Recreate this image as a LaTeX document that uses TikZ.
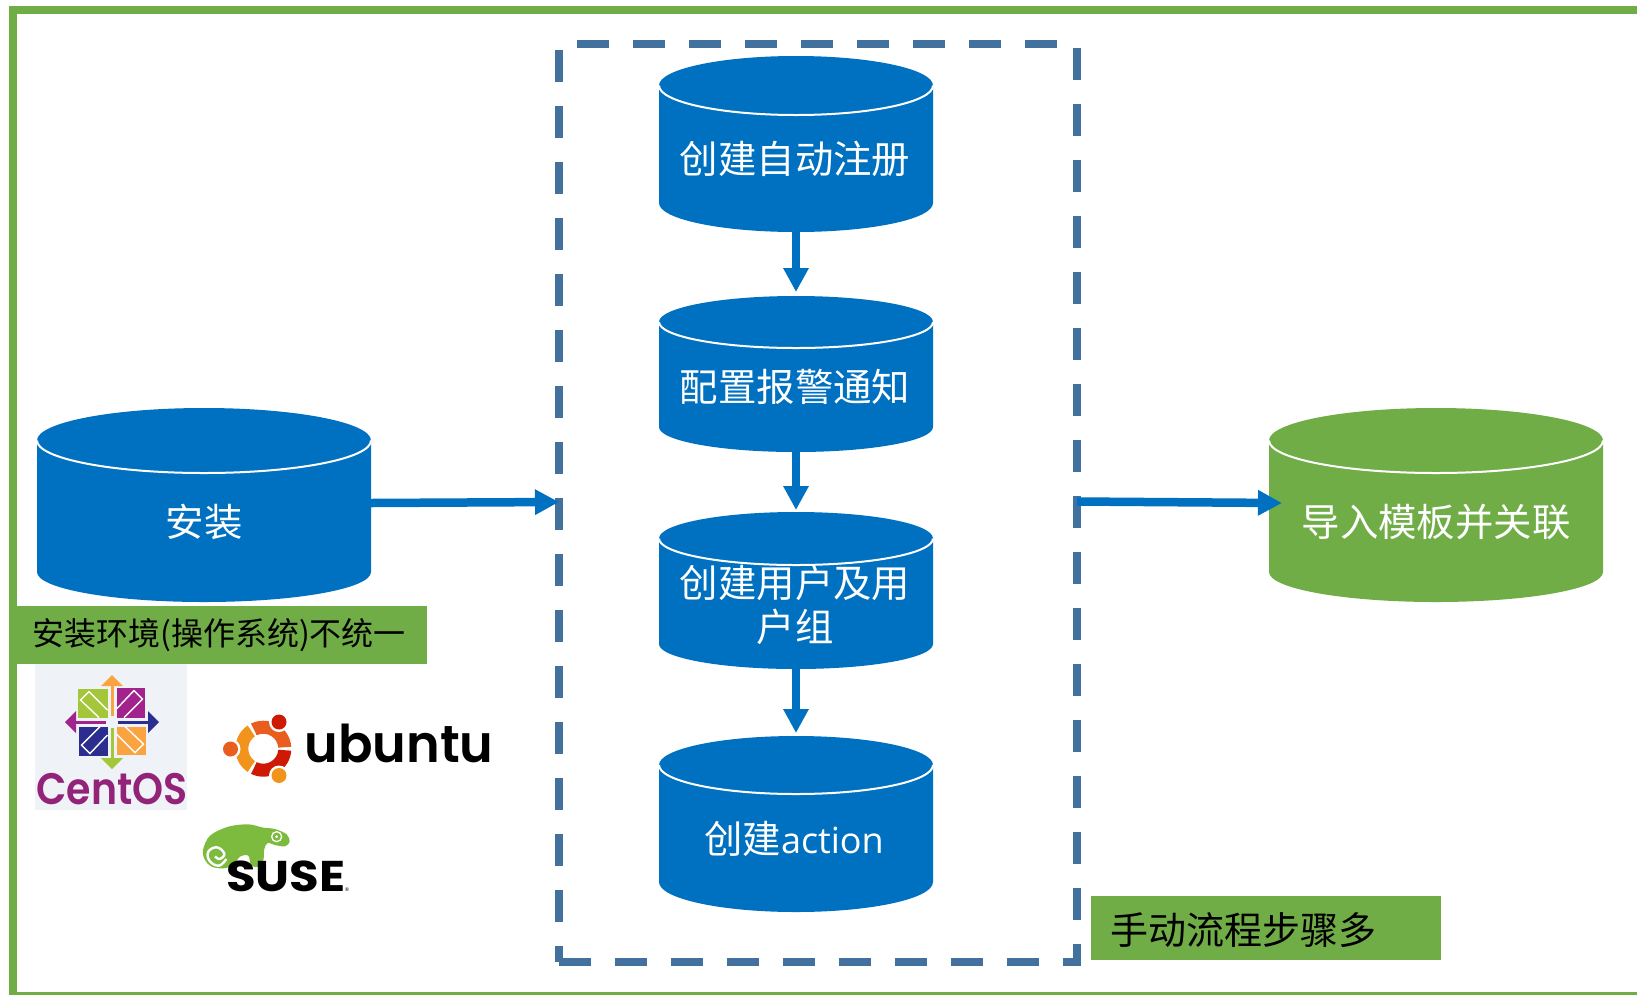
\documentclass[tikz,border=0pt]{standalone}
\usepackage{fontspec}
\usepackage{graphicx}
\setmainfont{Noto Sans CJK SC}
\newfontfamily\latfont{Open Sans}
\newfontfamily\logofont{Poppins}
\newfontfamily\logosemi{Poppins SemiBold}
\usetikzlibrary{arrows.meta}
\definecolor{drumblue}{HTML}{0070C0}
\definecolor{leaf}{HTML}{70AD47}
\definecolor{frameblue}{HTML}{41719C}
\definecolor{cgreen}{HTML}{A4C639}
\definecolor{cpurple}{HTML}{A3238E}
\definecolor{cnavy}{HTML}{2B2E8F}
\definecolor{corange}{HTML}{F9A341}
\definecolor{centosbg}{HTML}{EFF3F7}
\definecolor{centostext}{HTML}{932279}
\definecolor{chamgreen}{HTML}{7CBB3E}
\definecolor{ubtop}{HTML}{E95E1E}
\definecolor{ubleft}{HTML}{F2941C}
\definecolor{ubbot}{HTML}{CE1A04}
\tikzset{
  x=1pt,y=-1pt,
  drumnode/.style={inner sep=0pt,outer sep=0pt,draw=none},
  drumtext/.style={inner sep=0pt,text=white,align=center,font=\fontsize{38.4}{44}\selectfont},
  flow/.style={draw=drumblue,line width=8.5pt,-{Triangle[length=24pt,width=24pt]}},
  tagbox/.style={fill=leaf,inner sep=0pt,outer sep=0pt},
  tagtext/.style={inner sep=0pt,text=black},
  dashside/.style={draw=frameblue,line width=8pt,dash pattern=on 32pt off 24pt},
}
% name, xL, xR, yTop, yWide, yLow, yBot, colour
\newcommand{\drum}[8]{%
  \fill[#8] (#2,#5) arc[start angle=180,end angle=0,x radius={(#3-#2)/2*1pt},y radius={(#5-#4)*1pt}]
    -- (#3,#6) arc[start angle=0,end angle=-180,x radius={(#3-#2)/2*1pt},y radius={(#7-#6)*1pt}] -- cycle;
  \draw[white,line width=2pt] (#2,#5) arc[start angle=180,end angle=360,x radius={(#3-#2)/2*1pt},y radius={(#5-#4)*1pt}];
  \node[drumnode,minimum width={(#3-#2)*1pt},minimum height={(#7-#4)*1pt}] (#1) at ({(#2+#3)/2},{(#4+#7)/2}) {};
}
\begin{document}
\begin{tikzpicture}
\useasboundingbox (0,0) rectangle (1637,994);
\fill[white] (0,0) rectangle (1637,994);
% outer open frame
\draw[leaf,line width=8pt] (1640,10) -- (13,10) -- (13,996) -- (1640,996);
% dashed frame
\coordinate (ftl) at (577,44);
\coordinate (ftr) at (1060,44);
\coordinate (frt) at (1077,48);
\coordinate (frb) at (1077,966);
\coordinate (fbl) at (559,962);
\coordinate (fbr) at (1081,962);
\coordinate (flt) at (559,50);
\coordinate (flb) at (559,962);
\draw[dashside] (ftl) -- (ftr);
\draw[dashside] (frt) -- (frb);
\draw[dashside] (fbl) -- (fbr);
\draw[dashside] (flt) -- (flb);
% drums
\drum{inst}{37}{371}{408}{440.5}{572}{602}{drumblue}
\drum{c1}{659}{933}{56}{85.5}{203}{232}{drumblue}
\drum{c2}{659}{933}{296}{322}{427}{452}{drumblue}
\drum{c3}{659}{933}{512}{538.5}{644}{669}{drumblue}
\drum{c4}{659}{933}{736}{765}{882}{912}{drumblue}
\drum{imp}{1269}{1603}{408}{440.5}{572}{602}{leaf}
\node[drumtext] (instt) at (204,522) {安装};
\node[drumtext] (c1t) at (795,159) {创建自动注册};
\node[drumtext] (c2t) at (795,387) {配置报警通知};
\node[drumtext] (c3t) at (795,605) {创建用户及用\\户组};
\node[drumtext] (c4t) at (794,839) {创建{\latfont\fontsize{36}{44}\selectfont action}};
\node[drumtext] (impt) at (1436,522) {导入模板并关联};
% arrows
\coordinate (inHit) at (559,502);
\coordinate (outStart) at (1077,501.5);
\draw[flow] (inst.east |- 0,503) -- (inHit);
\draw[flow] (outStart) -- (1282,503);
\draw[flow,shorten >=4pt] (c1.south) -- (c2.north);
\draw[flow,shorten >=2pt] (c2.south) -- (c3.north);
\draw[flow,shorten >=3pt] (c3.south) -- (c4.north);
% tags
\node[tagbox,minimum width=410pt,minimum height=58pt] (tagA) at (222,635) {};
\node[tagtext,font=\fontsize{32}{38}\selectfont] (tagAt) at (219,635) {安装环境(操作系统)不统一};
\node[tagbox,minimum width=350pt,minimum height=64pt] (tagB) at (1266,928) {};
\node[tagtext,font=\fontsize{38}{44}\selectfont] (tagBt) at (1243,930) {手动流程步骤多};
% CentOS logo
\fill[centosbg] (35,664) rectangle (187,810);
\begin{scope}[shift={(112,722)}]
  \foreach \r/\qc/\ac in {0/cgreen/corange,90/cnavy/cpurple,180/corange/cgreen,270/cpurple/cnavy}{
    \begin{scope}[rotate=\r]
      \fill[\qc] (-34,-33) rectangle (-4.5,-4.5);
      \draw[white,line width=1.4pt,line join=miter] (-4.5,-12) -- (-23,-30.5) -- (-31.5,-22) -- (-13,-4.5);
      \fill[\ac] (0,-47) -- (11,-36) -- (-11,-36) -- cycle;
      \fill[\ac] (-1.5,-36) rectangle (1.5,-6);
    \end{scope}
  }
\end{scope}
\node[inner sep=0pt,text=centostext,font=\logosemi\fontsize{42}{42}\selectfont] (centos) at (112,789) {\scalebox{0.94}[1.05]{CentOS}};
% Ubuntu logo
\foreach \a/\b/\cc in {4/116/ubtop,124/236/ubleft,244/356/ubbot}{
  \fill[\cc] ([shift={(263.3,748.7)}]\a:28pt) arc[start angle=\a,end angle=\b,radius=28pt]
     -- ([shift={(263.3,748.7)}]\b:15pt) arc[start angle=\b,end angle=\a,radius=15pt] -- cycle;
}
\fill[white] (279,722) circle[radius=10pt] (230.5,749) circle[radius=10pt] (279,775.5) circle[radius=10pt];
\fill[ubbot] (279,722) circle[radius=7.5pt];
\fill[ubtop] (230.5,749) circle[radius=7.5pt];
\fill[ubleft] (279,775.5) circle[radius=7.5pt];
\node[inner sep=0pt,text=black,font=\logosemi\fontsize{52}{52}\selectfont] (ubuntu) at (399,743) {\scalebox{0.98}[1]{ubuntu}};
% SUSE logo
\begin{scope}[shift={(195,815)},x=0.3333pt,y=-0.3333pt]
  \fill[chamgreen] plot[smooth cycle,tension=0.55] coordinates {
    (24,105) (45,62) (100,35) (160,28) (205,38) (240,42) (275,58) (284,80) (270,94) (240,90) (218,84)
    (208,102) (205,135) (190,155) (168,150) (160,122) (135,125) (115,150) (85,160) (50,155) (30,135)};
  \draw[white,line width=2.4pt] plot[smooth,tension=0.7] coordinates {(94,132) (72,152) (44,138) (40,110) (66,97) (88,116) (74,132) (60,124)};
  \draw[white,line width=1.3pt,fill=chamgreen] (245,65) circle[radius=5pt];
  \fill[white] (245,65) circle[radius=1.5pt];
\end{scope}
\node[inner sep=0pt,text=black,font=\logofont\bfseries\fontsize{43}{43}\selectfont] (suse) at (286,876) {\scalebox{1.12}[1]{SUSE}};
\node[inner sep=0pt,text=black,font=\latfont\fontsize{5}{5}\selectfont] (reg) at (347,890) {®};
\end{tikzpicture}
\end{document}
